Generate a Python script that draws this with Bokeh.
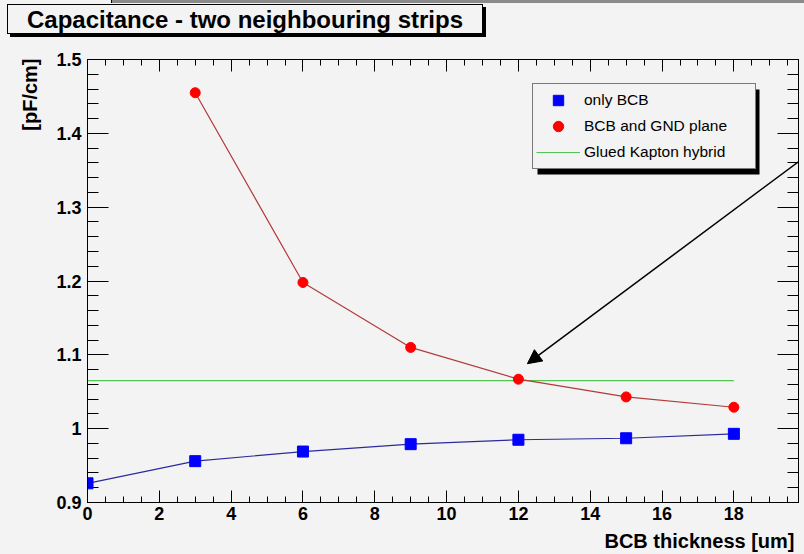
from bokeh.plotting import figure
from bokeh.layouts import column
from bokeh.models import (LinearAxis, FixedTicker, Label, BoxAnnotation, Arrow,
                          NormalHead, Legend, LegendItem, Range1d, Div,
                          CustomLabelingPolicy)
from bokeh.embed import file_html
from bokeh.resources import INLINE

# BCB thickness [um]
thickness = [0, 3, 6, 9, 12, 15, 18]
# capacitance between two neighbouring strips [pF/cm]
only_bcb = [0.926, 0.956, 0.969, 0.979, 0.985, 0.987, 0.993]
gnd_thickness = [3, 6, 9, 12, 15, 18]
bcb_and_gnd = [1.455, 1.198, 1.110, 1.067, 1.043, 1.029]
kapton_thickness = [0, 18]
glued_kapton = [1.065, 1.065]

x_major = [0, 2, 4, 6, 8, 10, 12, 14, 16, 18]
x_minor = [i * 0.5 for i in range(40)]
y_major = [0.9, 1.0, 1.1, 1.2, 1.3, 1.4, 1.5]
y_labels = ["0.9", "1", "1.1", "1.2", "1.3", "1.4", "1.5"]
y_minor = [round(0.9 + i * 0.02, 2) for i in range(31)]

TITLE = "Capacitance - two neighbouring strips"
BG = "#f3f3f3"
FONT = "Liberation Sans"
HEADER_H = 40  # height of the title strip above the plot

# title strip: framed title box with a drop shadow
header = Div(
    text=(
        f'<div style="position:relative;width:804px;height:{HEADER_H}px;'
        f'background:{BG};overflow:hidden;">'
        '<div style="position:absolute;left:111px;top:0;width:693px;height:3px;'
        'background:#8a8a8a;border-left:1px solid #000;"></div>'
        '<div style="position:absolute;left:7px;top:4px;width:476px;height:30px;'
        f'border:1px solid #000;box-shadow:3px 3px 0 #000;background:{BG};'
        f'font-family:\'{FONT}\';font-weight:bold;font-size:24px;color:#000;'
        f'text-align:center;line-height:30px;white-space:nowrap;">{TITLE}</div>'
        '</div>'
    ),
    width=804, height=HEADER_H, margin=0,
    styles={"background-color": BG},
)

p = figure(width=804, height=554 - HEADER_H, output_backend="svg",
           toolbar_location=None,
           x_range=Range1d(0, 19.8), y_range=Range1d(0.9, 1.5),
           x_axis_location=None, y_axis_location=None,
           min_border_left=87, min_border_right=6, min_border_top=59 - HEADER_H,
           min_border_bottom=52, margin=0)
p.title.visible = False
p.background_fill_color = BG
p.border_fill_color = BG
p.outline_line_color = "black"
p.outline_line_width = 1
p.xgrid.visible = False
p.ygrid.visible = False

no_labels = CustomLabelingPolicy(code="for (const i of indices) indices.unset(i)")


def style_axis(ax, ticks, minor, major_len, minor_len, labels=True):
    ax.ticker = FixedTicker(ticks=ticks, minor_ticks=minor)
    ax.axis_line_color = "black"
    ax.major_tick_line_color = "black"
    ax.minor_tick_line_color = "black"
    ax.major_tick_in = major_len
    ax.major_tick_out = 0
    ax.minor_tick_in = minor_len
    ax.minor_tick_out = 0
    if labels:
        ax.major_label_text_font = FONT
        ax.major_label_text_font_style = "bold"
        ax.major_label_text_font_size = "18px"
        ax.major_label_text_color = "black"
    else:
        # frame ticks only, no numbers
        ax.major_label_policy = no_labels
        ax.major_label_text_font_size = "0px"
        ax.major_label_standoff = 0


xb = LinearAxis()
style_axis(xb, x_major, x_minor, 12, 6)
xb.major_label_standoff = 4
p.add_layout(xb, "below")

xt = LinearAxis()
style_axis(xt, x_major, x_minor, 12, 6, labels=False)
p.add_layout(xt, "above")

yl = LinearAxis()
style_axis(yl, y_major, y_minor, 21, 11)
yl.major_label_overrides = {v: s for v, s in zip(y_major, y_labels)}
yl.major_label_standoff = 6
p.add_layout(yl, "left")

yr = LinearAxis()
style_axis(yr, y_major, y_minor, 21, 11, labels=False)
p.add_layout(yr, "right")

# series
kap = p.line(kapton_thickness, glued_kapton, line_color="#55c455", line_width=1.2)
p.line(thickness, only_bcb, line_color="#2b2b9c", line_width=1.2)
blue = p.scatter(thickness, only_bcb, marker="square", size=11,
                 fill_color="#0000ff", line_color="#0000ff")
p.line(gnd_thickness, bcb_and_gnd, line_color="#b33a3a", line_width=1.2)
red = p.scatter(gnd_thickness, bcb_and_gnd, marker="circle", size=10,
                fill_color="#ff0000", line_color="#ff0000")

# arrow pointing at the crossing with the Kapton reference
p.add_layout(Arrow(x_start=19.95, y_start=1.367, x_end=12.25, y_end=1.088,
                   line_width=1.5, line_color="black",
                   end=NormalHead(size=14, fill_color="black", line_color="black")))

# legend with drop shadow
p.add_layout(BoxAnnotation(left=537, right=759, top=89 - HEADER_H,
                           bottom=174 - HEADER_H,
                           left_units="canvas", right_units="canvas",
                           top_units="canvas", bottom_units="canvas",
                           fill_color="black", fill_alpha=1, line_alpha=0))
legend = Legend(items=[LegendItem(label="only BCB", renderers=[blue]),
                       LegendItem(label="BCB and GND plane", renderers=[red]),
                       LegendItem(label="Glued Kapton hybrid", renderers=[kap])],
                location=(445, 333), padding=3, spacing=0, margin=0,
                glyph_width=44, glyph_height=26, label_height=26,
                label_width=168, label_standoff=4,
                label_text_font=FONT, label_text_font_size="15.5px",
                label_text_color="black",
                background_fill_color=BG, background_fill_alpha=1,
                border_line_color="black", border_line_width=1)
p.add_layout(legend)

# axis titles, right-aligned at the ends of the axes
p.add_layout(Label(x=29, y=58 - HEADER_H, x_units="canvas", y_units="canvas",
                   text="[pF/cm]", angle=1.5708,
                   text_font=FONT, text_font_style="bold", text_font_size="20px",
                   text_align="right", text_baseline="middle", text_color="black"),
             "left")
p.add_layout(Label(x=794, y=540 - HEADER_H, x_units="canvas", y_units="canvas",
                   text="BCB thickness [um]",
                   text_font=FONT, text_font_style="bold", text_font_size="20px",
                   text_align="right", text_baseline="alphabetic",
                   text_color="black"), "below")

page = column(header, p, spacing=0, margin=0,
              styles={"background-color": BG})
open("out.html", "w").write(file_html(page, INLINE))
